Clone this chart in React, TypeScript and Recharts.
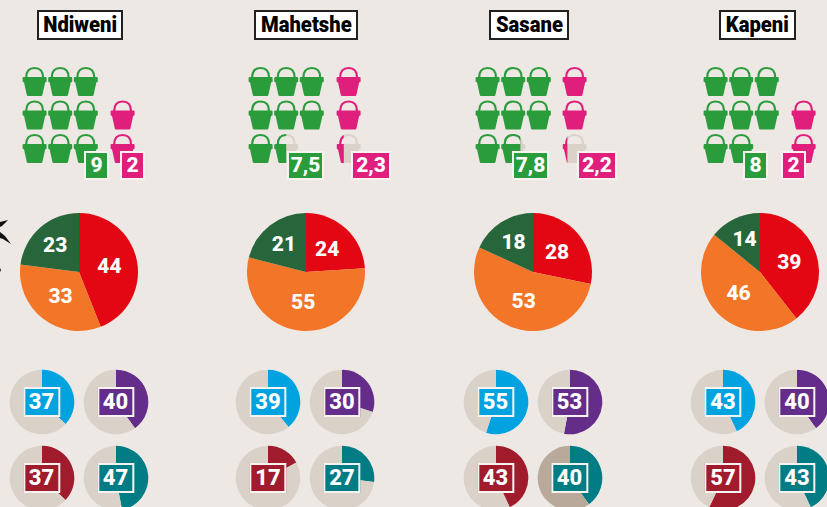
import { useId } from "react";
import { Cell, Pie, PieChart, Scatter, ScatterChart, XAxis, YAxis } from "recharts";

const towns = ["Ndiweni", "Mahetshe", "Sasane", "Kapeni"];

const greenBuckets = [9, 7.5, 7.8, 8];
const pinkBuckets = [2, 2.3, 2.2, 2];
const bucketLabels = [
  ["9", "2"],
  ["7,5", "2,3"],
  ["7,8", "2,2"],
  ["8", "2"],
];

const shareRed = [44, 24, 28, 39];
const shareOrange = [33, 55, 53, 46];
const shareGreen = [23, 21, 18, 14];

const blueValues = [37, 39, 55, 43];
const purpleValues = [40, 30, 53, 40];
const crimsonValues = [37, 17, 43, 57];
const tealValues = [47, 27, 40, 43];

const BG = "#ede8e4";
const REST = "#dad1c9";
const GREEN = "#2a9c3c";
const PINK = "#e01f7c";
const SHARE_COLORS = ["#e30613", "#f37528", "#27663a"];
const SHARE_LABEL_RADIUS = [31, 30, 36];
const FONT = "Roboto, sans-serif";
const EDGE = "2px solid #f6f3f1";

// layout per town: title box, first bucket column, pink column, badges, big pie, small pies
const titleBoxes = [[37, 86], [254, 104], [489, 80], [719, 77]];
const bucketStart = [35, 261, 488, 716];
const pinkColumn = [123, 349, 575, 804];
const greenBadges = [[84, 25], [287, 37], [512, 37], [743, 25]];
const pinkBadges = [[120, 25], [351, 40], [577, 40], [781, 25]];
const bigPieX = [79, 306, 533, 760];
const leftPieX = [41.5, 268, 495.5, 723];
const rightPieX = [115.5, 342, 569.5, 797];

const COL_STEP = 25.6;
const ROW_STEP = 33.5;

// one point per bucket, fill is how much of the bucket is coloured
function greenPoints(value: number) {
  const points = [];
  for (let i = 0; i < Math.ceil(value); i++) {
    points.push({ col: i % 3, row: Math.floor(i / 3), fill: Math.min(1, value - i) });
  }
  return points;
}

function pinkPoints(value: number, col: number) {
  const total = Math.ceil(value);
  const points = [];
  for (let i = 0; i < total; i++) {
    points.push({ col, row: 3 - total + i, fill: Math.min(1, value - i) });
  }
  return points;
}

function Bucket({ cx, cy, payload, color }: any) {
  const id = useId().replace(/:/g, "");
  const w = 24;
  const parts = (paint: string) => (
    <g transform={`translate(${cx},${cy})`}>
      <path
        d="M-8.4,-4 C-8.4,-10.5 -5,-13.5 0,-13.5 C5,-13.5 8.4,-10.5 8.4,-4"
        fill="none"
        stroke={paint}
        strokeWidth={2.2}
      />
      <path
        d="M-11,-4.6 L11,-4.6 Q12,-4.6 12,-3.6 L12,-0.2 Q12,0.8 11,0.8 L10.6,0.8 L7.8,13.4 Q7.6,14.5 6.6,14.5 L-6.6,14.5 Q-7.6,14.5 -7.8,13.4 L-10.6,0.8 L-11,0.8 Q-12,0.8 -12,-0.2 L-12,-3.6 Q-12,-4.6 -11,-4.6 Z"
        fill={paint}
      />
    </g>
  );
  if (payload.fill >= 1) return parts(color);
  return (
    <g>
      <clipPath id={id}>
        <rect x={cx - w / 2} y={cy - 16} width={w * payload.fill} height={32} />
      </clipPath>
      {parts(REST)}
      <g clipPath={`url(#${id})`}>{parts(color)}</g>
    </g>
  );
}

function BucketChart({ index }: { index: number }) {
  const pinkCol = (pinkColumn[index] - bucketStart[index]) / COL_STEP;
  return (
    <div style={{ position: "absolute", left: bucketStart[index] - COL_STEP, top: 81.5 - ROW_STEP }}>
      <ScatterChart
        width={COL_STEP * 6}
        height={ROW_STEP * 4}
        margin={{ top: 0, right: 0, bottom: 0, left: 0 }}
      >
        <XAxis type="number" dataKey="col" domain={[-1, 5]} hide />
        <YAxis type="number" dataKey="row" domain={[-1, 3]} reversed hide />
        <Scatter
          data={greenPoints(greenBuckets[index])}
          isAnimationActive={false}
          shape={(p: any) => <Bucket {...p} color={GREEN} />}
        />
        <Scatter
          data={pinkPoints(pinkBuckets[index], pinkCol)}
          isAnimationActive={false}
          shape={(p: any) => <Bucket {...p} color={PINK} />}
        />
      </ScatterChart>
    </div>
  );
}

const shareLabel = (p: any) => {
  const a = (-p.midAngle * Math.PI) / 180;
  const r = SHARE_LABEL_RADIUS[p.index];
  return (
    <text
      x={p.cx + r * Math.cos(a)}
      y={p.cy + r * Math.sin(a)}
      fill="#fff"
      textAnchor="middle"
      dominantBaseline="central"
      fontFamily={FONT}
      fontWeight={800}
      fontSize={21}
    >
      {p.value}
    </text>
  );
};

function SharePie({ index }: { index: number }) {
  const data = [
    { name: "red", value: shareRed[index] },
    { name: "orange", value: shareOrange[index] },
    { name: "green", value: shareGreen[index] },
  ];
  return (
    <div style={{ position: "absolute", left: bigPieX[index] - 60, top: 212 }}>
      <PieChart width={120} height={120} margin={{ top: 0, right: 0, bottom: 0, left: 0 }}>
        <Pie
          data={data}
          dataKey="value"
          cx="50%"
          cy="50%"
          outerRadius={59}
          startAngle={90}
          endAngle={-270}
          stroke="none"
          label={shareLabel}
          labelLine={false}
          isAnimationActive={false}
        >
          {data.map((d, i) => (
            <Cell key={d.name} fill={SHARE_COLORS[i]} />
          ))}
        </Pie>
      </PieChart>
    </div>
  );
}

function SmallPie({ x, y, value, color, rest = REST }: any) {
  const data = [
    { name: "value", value },
    { name: "rest", value: 100 - value },
  ];
  return (
    <>
      <div style={{ position: "absolute", left: x - 33, top: y - 33 }}>
        <PieChart width={66} height={66} margin={{ top: 0, right: 0, bottom: 0, left: 0 }}>
          <Pie
            data={data}
            dataKey="value"
            cx="50%"
            cy="50%"
            outerRadius={32.3}
            startAngle={90}
            endAngle={-270}
            stroke="none"
            isAnimationActive={false}
          >
            <Cell fill={color} />
            <Cell fill={rest} />
          </Pie>
        </PieChart>
      </div>
      <div
        style={{
          position: "absolute",
          left: x,
          top: y,
          transform: "translate(-50%, -50%)",
          boxSizing: "border-box",
          height: 30,
          padding: "0 4px",
          lineHeight: "26px",
          border: EDGE,
          background: color,
          color: "#fff",
          fontFamily: FONT,
          fontWeight: 800,
          fontSize: 22,
        }}
      >
        {value}
      </div>
    </>
  );
}

function Badge({ box, text, color }: { box: number[]; text: string; color: string }) {
  return (
    <div
      style={{
        position: "absolute",
        left: box[0],
        top: 151,
        width: box[1],
        height: 29,
        boxSizing: "border-box",
        border: EDGE,
        background: color,
        color: "#fff",
        textAlign: "center",
        lineHeight: "25px",
        fontFamily: FONT,
        fontWeight: 800,
        fontSize: 21,
        whiteSpace: "nowrap",
      }}
    >
      {text}
    </div>
  );
}

export default function App() {
  return (
    <div style={{ position: "absolute", left: 0, top: 0, width: 827, height: 507, overflow: "hidden", background: BG }}>
      {/* cut-off bird from the neighbouring panel */}
      <svg style={{ position: "absolute", left: 0, top: 218 }} width={12} height={56}>
        <path d="M0,4 L8,2 L2,8 L0,9 Z M0,14 L5,18 L11,26 L3,21 L0,20 Z M0,50 L1,52 L0,54 Z" fill="#111" />
      </svg>
      {towns.map((town, i) => (
        <div key={town}>
          <div
            style={{
              position: "absolute",
              left: titleBoxes[i][0],
              top: 10,
              width: titleBoxes[i][1],
              height: 30,
              boxSizing: "border-box",
              border: "2px solid #222",
              background: "#fff",
              color: "#000",
              textAlign: "center",
              lineHeight: "26px",
              fontFamily: FONT,
              fontWeight: 900,
              fontSize: 22,
              whiteSpace: "nowrap",
            }}
          >
            <span style={{ display: "inline-block", transform: "scaleX(0.92)" }}>{town}</span>
          </div>
          <BucketChart index={i} />
          <Badge box={greenBadges[i]} text={bucketLabels[i][0]} color={GREEN} />
          <Badge box={pinkBadges[i]} text={bucketLabels[i][1]} color={PINK} />
          <SharePie index={i} />
          <SmallPie x={leftPieX[i]} y={401.7} value={blueValues[i]} color="#00a3df" />
          <SmallPie x={rightPieX[i]} y={401.7} value={purpleValues[i]} color="#642d8a" />
          <SmallPie x={leftPieX[i]} y={477.6} value={crimsonValues[i]} color="#a01c2d" />
          <SmallPie
            x={rightPieX[i]}
            y={477.6}
            value={tealValues[i]}
            color="#007c85"
            rest={i === 2 ? "#b9a99b" : REST}
          />
        </div>
      ))}
    </div>
  );
}
